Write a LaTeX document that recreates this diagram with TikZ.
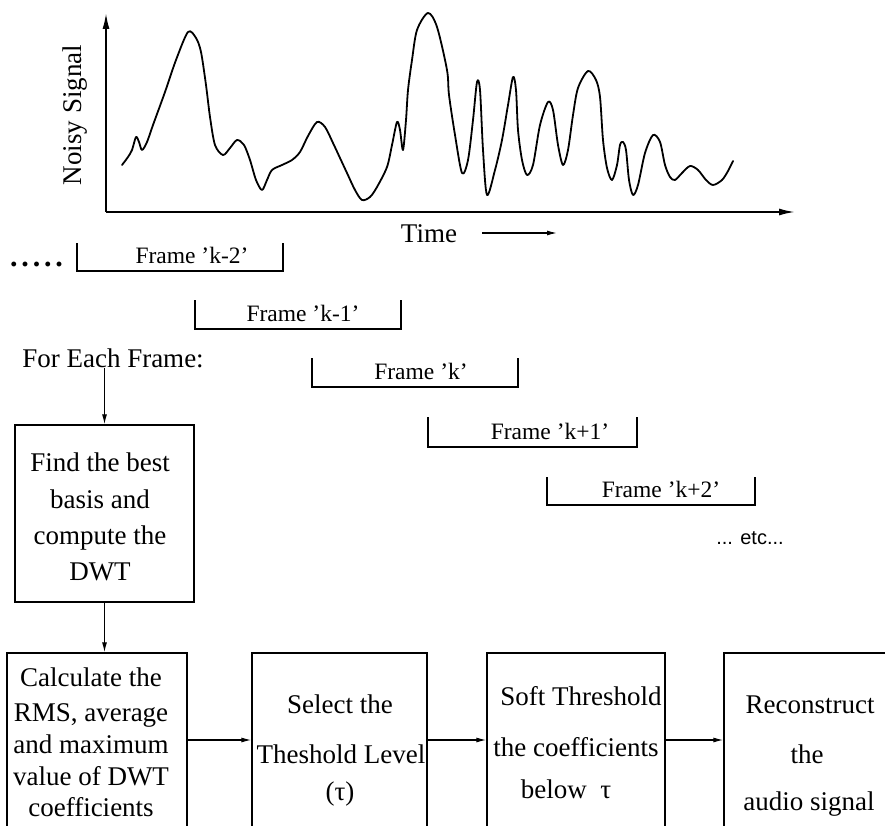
\documentclass[tikz,border=0pt]{standalone}
\usepackage{fontspec}
\setmainfont{Liberation Serif}
\newfontfamily\etcfont{Liberation Sans}
\usetikzlibrary{arrows.meta}
\tikzset{
  lbl/.style={font=\fontsize{27}{32}\selectfont, inner sep=0pt, anchor=base},
  framelbl/.style={font=\fontsize{23.5}{27}\selectfont, inner sep=0pt, anchor=base},
  stepbox/.style={draw, line width=1.3pt, inner sep=0pt},
  arr/.style={line width=1.2pt, -{Latex[length=10pt,width=5pt]}},
  axarr/.style={line width=1.8pt, -{Latex[length=16pt,width=7pt]}},
  bracket/.style={line width=1.3pt},
  sig/.style={line width=1.8pt, line join=round, line cap=round}
}
\begin{document}
\begin{tikzpicture}[x=1pt,y=-1pt]
\useasboundingbox (0,0) rectangle (885,826);
\clip (0,0) rectangle (885,826);

% axes
\coordinate (O) at (106,212);
\coordinate (ytip) at (106,13);
\coordinate (xtip) at (795,212);
\draw[axarr] (O) -- (ytip);
\draw[axarr] (O) -- (xtip);
\node[lbl, anchor=center, rotate=90] (ylab) at (75,115) {Noisy Signal};
\node[lbl] (time) at (429,242) {Time};
\coordinate (ta) at (482,233);
\coordinate (tb) at (557,233);
\draw[arr] (ta) -- (tb);

% signal
\draw[sig] plot[smooth, tension=0.5] coordinates {
(122,165) (128,157) (132,150) (136,137) (139,142) (142,150) (147,142) (153,125)
(165,92) (176,60) (188,32) (196,38) (201,52) (206,85) (210,117) (215,145)
(223,155) (230,148) (237,140) (244,145) (250,160) (256,180) (262,190) (267,180)
(272,170) (282,165) (292,160) (300,152) (308,136) (317,122) (325,127) (333,143)
(340,158) (347,173) (355,190) (362,200) (370,197) (377,187) (387,167) (392,145)
(397,122) (400,130) (403,150) (406,120) (408,90) (412,60) (417,30) (428,13)
(437,27) (447,70) (449,95) (455,135) (462,173) (468,160) (473,120) (477,82)
(480,90) (483,150) (487,195) (495,170) (502,140) (508,105) (513,77) (516,90)
(518,130) (522,160) (527,175) (533,165) (540,125) (548,102) (553,110) (558,145)
(563,165) (568,150) (573,115) (578,88) (588,71) (596,80) (600,97) (603,140)
(607,168) (612,180) (617,165) (620,145) (623,142) (626,150) (629,180) (633,195)
(638,185) (645,153) (653,135) (660,142) (665,165) (670,177) (675,180) (682,173)
(690,166) (698,170) (706,180) (713,185) (722,180) (728,171) (733,161)};

% frames
\node[font=\bfseries\fontsize{30}{34}\selectfont, inner sep=0pt, anchor=base west] (dots) at (10,266) {.\kern3.8pt.\kern3.8pt.\kern3.8pt.\kern3.8pt.};
\draw[bracket] (77,243) -- (77,271) -- (283,271) -- (283,243);
\node[framelbl] (fkm2) at (192,263) {Frame 'k-2'};
\draw[bracket] (195,300) -- (195,329) -- (401,329) -- (401,300);
\node[framelbl] (fkm1) at (303,321) {Frame 'k-1'};
\draw[bracket] (312,358) -- (312,387) -- (518,387) -- (518,358);
\node[framelbl] (fk) at (421,379) {Frame 'k'};
\draw[bracket] (428,417) -- (428,447) -- (637,447) -- (637,417);
\node[framelbl] (fkp1) at (550,439) {Frame 'k+1'};
\draw[bracket] (547,477) -- (547,505) -- (755,505) -- (755,477);
\node[framelbl] (fkp2) at (661,497) {Frame 'k+2'};
\node[font=\etcfont\fontsize{20}{23}\selectfont, inner sep=0pt, anchor=base] (etc) at (750,544) {... etc...};

% flow
\node[lbl] (fef) at (113,367) {For Each Frame:};
\node[stepbox, minimum width=179pt, minimum height=177pt] (box1) at (104.5,513.5) {};
\node[lbl, anchor=center, align=center, font=\fontsize{27}{36.3}\selectfont] (t1) at (100,517) {Find the best\\basis and\\compute the\\DWT};
\draw[arr] (box1.north |- fef.south) -- (box1.north);

\node[stepbox, minimum width=180pt, minimum height=217pt] (box2) at (97,761.5) {};
\node[stepbox, minimum width=175pt, minimum height=217pt] (box3) at (339.5,761.5) {};
\node[stepbox, minimum width=178pt, minimum height=217pt] (box4) at (576,761.5) {};
\node[stepbox, minimum width=178pt, minimum height=217pt] (box5) at (813,761.5) {};
\draw[arr] (box1.south) -- (box1.south |- box2.north);

\node[lbl] (t2a) at (91,686) {Calculate the};
\node[lbl] (t2b) at (91,721) {RMS, average};
\node[lbl] (t2c) at (91,753) {and maximum};
\node[lbl] (t2d) at (91,785) {value of DWT};
\node[lbl] (t2e) at (91,816) {coefficients};

\node[lbl] (t3a) at (340,713) {Select the};
\node[lbl] (t3b) at (341,763) {Theshold Level};
\node[lbl] (t3c) at (340,800) {(τ)};

\node[lbl] (t4a) at (581,705) {Soft Threshold};
\node[lbl] (t4b) at (576,756) {the coefficients};
\node[lbl] (t4c) at (566,798) {below~~τ};

\node[lbl] (t5a) at (810,713) {Reconstruct};
\node[lbl] (t5b) at (807,763) {the};
\node[lbl] (t5c) at (809,810) {audio signal};

\coordinate (ay) at (0,740);
\draw[arr] (box2.east |- ay) -- (box3.west |- ay);
\draw[arr] (box3.east |- ay) -- (box4.west |- ay);
\draw[arr] (box4.east |- ay) -- (box5.west |- ay);
\end{tikzpicture}
\end{document}
